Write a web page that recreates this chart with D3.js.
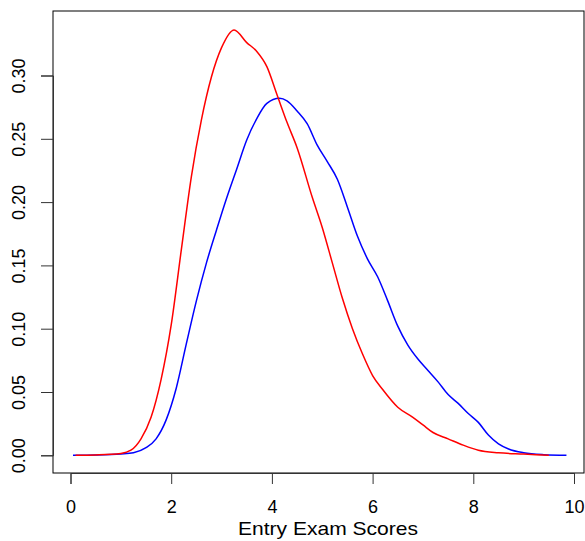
<!DOCTYPE html>
<html>
<head>
<meta charset="utf-8">
<script src="https://cdn.jsdelivr.net/npm/d3@7/dist/d3.min.js"></script>
<style>
  body { margin: 0; background: #fff; }
  text { font-family: "Liberation Sans", Arial, sans-serif; fill: #000; }
</style>
</head>
<body>
<svg id="chart" width="585" height="541"></svg>
<script>
// density estimates
const redX = [0.1, 0.5, 1.0, 1.2, 1.4, 1.6, 1.8, 2.0, 2.2, 2.4, 2.6, 2.8, 3.0, 3.25, 3.5, 3.7, 3.9, 4.1, 4.3, 4.5, 4.8, 5.0, 5.2, 5.4, 5.6, 5.8, 6.0, 6.2, 6.5, 6.8, 7.0, 7.2, 7.5, 7.8, 8.1, 8.5, 9.0, 9.5];
const redY = [0, 0.0003, 0.0015, 0.004, 0.013, 0.030, 0.060, 0.103, 0.162, 0.220, 0.265, 0.299, 0.322, 0.336, 0.326, 0.319, 0.307, 0.285, 0.263, 0.243, 0.204, 0.180, 0.152, 0.124, 0.100, 0.080, 0.063, 0.052, 0.038, 0.030, 0.024, 0.018, 0.013, 0.008, 0.004, 0.002, 0.001, 0];

const blueX = [0.05, 0.5, 1.0, 1.25, 1.5, 1.7, 1.9, 2.1, 2.3, 2.5, 2.7, 2.9, 3.1, 3.3, 3.5, 3.7, 3.9, 4.15, 4.3, 4.5, 4.7, 4.9, 5.1, 5.3, 5.5, 5.7, 5.9, 6.1, 6.3, 6.5, 6.7, 6.9, 7.1, 7.3, 7.5, 7.7, 7.9, 8.1, 8.3, 8.5, 8.7, 9.0, 9.4, 9.85];
const blueY = [0, 0.0002, 0.001, 0.002, 0.006, 0.013, 0.028, 0.053, 0.088, 0.122, 0.152, 0.178, 0.203, 0.226, 0.249, 0.266, 0.278, 0.282, 0.280, 0.272, 0.262, 0.245, 0.232, 0.218, 0.196, 0.173, 0.155, 0.141, 0.122, 0.102, 0.087, 0.076, 0.067, 0.058, 0.048, 0.041, 0.033, 0.026, 0.016, 0.009, 0.005, 0.002, 0.0005, 0];

const xTicks = [0, 2, 4, 6, 8, 10];
const yTicks = [0, 0.05, 0.10, 0.15, 0.20, 0.25, 0.30];
const xTitle = "Entry Exam Scores";

const svg = d3.select("#chart");

const box = { left: 53, right: 584, top: 11, bottom: 473 };

const x = d3.scaleLinear().domain([0, 10]).range([70.5, 574]);
const y = d3.scaleLinear().domain([0, 0.30]).range([455.3, 75.5]);

const line = d3.line()
  .x(d => x(d[0]))
  .y(d => y(d[1]))
  .curve(d3.curveMonotoneX);

svg.append("path")
  .datum(blueX.map((v, i) => [v, blueY[i]]))
  .attr("d", line)
  .attr("fill", "none")
  .attr("stroke", "#0000ff")
  .attr("stroke-width", 1.5);

svg.append("path")
  .datum(redX.map((v, i) => [v, redY[i]]))
  .attr("d", line)
  .attr("fill", "none")
  .attr("stroke", "#ff0000")
  .attr("stroke-width", 1.5);

// frame
svg.append("rect")
  .attr("x", box.left)
  .attr("y", box.top)
  .attr("width", box.right - box.left)
  .attr("height", box.bottom - box.top)
  .attr("fill", "none")
  .attr("stroke", "#000")
  .attr("stroke-width", 1);

// x axis, R style
const xAxis = d3.axisBottom(x)
  .tickValues(xTicks)
  .tickSize(11)
  .tickPadding(16)
  .tickFormat(d3.format("d"));

const gx = svg.append("g")
  .attr("transform", `translate(0,${box.bottom})`)
  .call(xAxis);
gx.select(".domain").attr("stroke", "#333");
gx.selectAll(".tick line").attr("stroke", "#333");
gx.selectAll("text")
  .attr("font-size", 18)
  .attr("font-family", "Liberation Sans, Arial, sans-serif")
  .attr("fill", "#000");

// y axis, labels rotated
const yAxis = d3.axisLeft(y)
  .tickValues(yTicks)
  .tickSize(12)
  .tickFormat(d3.format(".2f"));

const gy = svg.append("g")
  .attr("transform", `translate(${box.left},0)`)
  .call(yAxis);
gy.select(".domain").attr("stroke", "#333");
gy.selectAll(".tick line").attr("stroke", "#333");
gy.selectAll("text")
  .attr("font-size", 18)
  .attr("font-family", "Liberation Sans, Arial, sans-serif")
  .attr("fill", "#000")
  .attr("x", null)
  .attr("dy", null)
  .attr("text-anchor", "middle")
  .attr("transform", "translate(-28,0) rotate(-90)");

svg.append("text")
  .attr("x", 328)
  .attr("y", 535)
  .attr("text-anchor", "middle")
  .attr("font-size", 19)
  .attr("textLength", 180)
  .attr("lengthAdjust", "spacingAndGlyphs")
  .text(xTitle);
</script>
</body>
</html>
